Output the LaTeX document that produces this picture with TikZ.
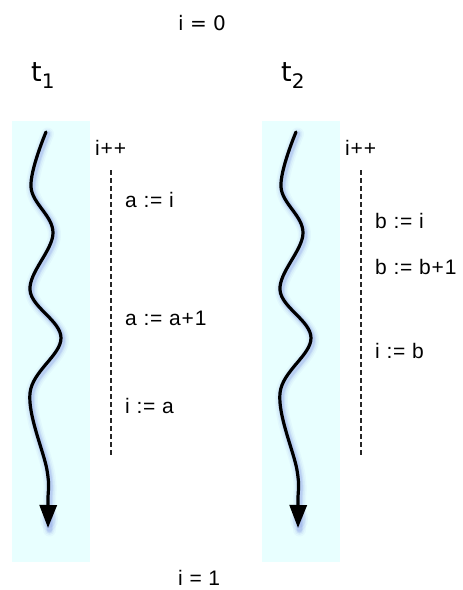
\documentclass[tikz,border=0pt]{standalone}
\usepackage{fontspec}
\setmainfont{Liberation Sans}
\newfontfamily\stmtfont[LetterSpace=4]{Liberation Sans}
\newfontfamily\headfont{DejaVu Sans}
\usetikzlibrary{arrows.meta}
\tikzset{>={Triangle[length=23pt,width=17pt]}}
\definecolor{lane}{RGB}{232,255,255}
\definecolor{glow}{RGB}{70,90,215}
\tikzstyle{thread}=[->,black,line width=3.2pt,line cap=round]
\tikzstyle{halo}=[glow,line cap=round]
\tikzstyle{sync}=[black!85,line width=1.2pt,dash pattern=on 5pt off 3pt]
\tikzstyle{stmt}=[anchor=base west,inner sep=0pt,font=\stmtfont\fontsize{21}{23}\selectfont]
\tikzstyle{heading}=[anchor=base west,inner sep=0pt,font=\headfont\fontsize{20}{22}\selectfont]
\newcommand\tsub[1]{\raisebox{-7pt}{\fontsize{20}{20}\selectfont #1}}
\newcommand\wavepath{plot[smooth,tension=0.6] coordinates
  {(46,132) (31,187) (53,233) (30,290) (61,338) (30,393) (47,470) (48,500) (48,528)}}

\begin{document}
\begin{tikzpicture}[x=1pt,y=-1pt]
  \useasboundingbox (0,0) rectangle (463,590);
  \node[heading] (start) at (178,30) {i = 0};
  \foreach \dx/\k in {0/1,250/2} {
    \fill[lane] (12+\dx,121) rectangle (90+\dx,562);
    \node[heading,font=\headfont\fontsize{27}{29}\selectfont] (t\k) at (31+\dx,81) {t\tsub{\k}};
    \begin{scope}[xshift=\dx]
      % soft shadow round the thread
      \foreach \w/\o in {13/0.04,10/0.06,7/0.09,5/0.12}
        \draw[halo,line width=\w pt,opacity=\o,shift={(1.5,2)}] \wavepath;
      \foreach \r/\o in {12/0.05,9/0.08}
        \fill[glow,opacity=\o] (49,519) ellipse ({0.75*\r} and \r);
      \draw[thread] \wavepath;
    \end{scope}
    \node[stmt] (inc\k) at (95+\dx,155) {i++};
    \coordinate (top\k) at (111+\dx,170);
    \coordinate (bot\k) at (111+\dx,455);
    \draw[sync] (top\k) -- (bot\k);
  }
  \node[stmt] (a1) at (125,207) {a := i};
  \node[stmt] (a2) at (125,325) {a := a+1};
  \node[stmt] (a3) at (125,413) {i := a};
  \node[stmt] (b1) at (375,228) {b := i};
  \node[stmt] (b2) at (375,274) {b := b+1};
  \node[stmt] (b3) at (375,358) {i := b};
  \node[stmt] (finish) at (178,585) {i = 1};
\end{tikzpicture}
\end{document}
